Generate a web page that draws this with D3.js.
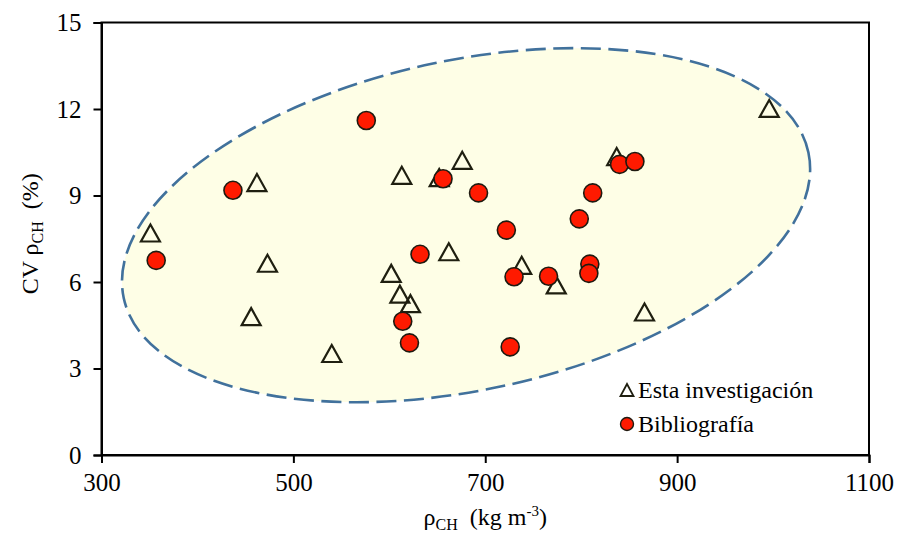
<!DOCTYPE html>
<html>
<head>
<meta charset="utf-8">
<script src="https://cdn.jsdelivr.net/npm/d3@7"></script>
<style>
  body { margin: 0; background: #fff; }
  svg text { font-family: "Liberation Serif", "Times New Roman", serif; fill: #000; }
</style>
</head>
<body>
<svg id="chart" width="899" height="533"></svg>
<script>
// Esta investigación (triangles)
var triX = [351, 462, 473, 456, 540, 613, 652, 676, 662, 602, 611, 622, 738, 774, 837, 866, 996];
var triY = [7.7, 9.45, 6.65, 4.8, 3.52, 9.7, 9.62, 10.22, 7.05, 6.3, 5.58, 5.25, 6.58, 5.9, 10.35, 4.96, 12.02];
// Bibliografía (circles)
var cirX = [576, 437, 357, 656, 693, 722, 632, 614, 621, 726, 730, 766, 798, 812, 809, 808, 840, 856];
var cirY = [11.6, 9.18, 6.75, 9.58, 9.09, 7.8, 6.96, 4.64, 3.89, 3.75, 6.18, 6.2, 8.19, 9.09, 6.62, 6.3, 10.08, 10.18];

var xTicks = [300, 500, 700, 900, 1100];
var yTicks = [0, 3, 6, 9, 12, 15];
var legendLabels = ['Esta investigación', 'Bibliografía'];
// ellipse centre in data units
var ellipseCenter = [680, 7.97];

var W = 899, H = 533;
var m = { left: 101.5, right: 30, top: 22.5, bottom: 78 };
var svg = d3.select('#chart');

var x = d3.scaleLinear().domain([300, 1100]).range([m.left, W - m.right]);
var y = d3.scaleLinear().domain([0, 15]).range([H - m.bottom, m.top]);

// shaded dashed ellipse
svg.append('ellipse')
  .attr('cx', 0).attr('cy', 0).attr('rx', 350).attr('ry', 165)
  .attr('transform', 'translate(' + x(ellipseCenter[0]) + ',' + y(ellipseCenter[1]) + ') rotate(-12)')
  .attr('fill', '#fefee6')
  .attr('stroke', '#41719c').attr('stroke-width', 2.6)
  .attr('stroke-dasharray', '20,7.5');

// frame
svg.append('rect')
  .attr('x', x(300)).attr('y', y(15))
  .attr('width', x(1100) - x(300)).attr('height', y(0) - y(15))
  .attr('fill', 'none').attr('stroke', '#000').attr('stroke-width', 2);

// axes
var xAxis = svg.append('g').attr('transform', 'translate(0,' + y(0) + ')')
  .call(d3.axisBottom(x).tickValues(xTicks).tickSize(8).tickPadding(10).tickFormat(d3.format('d')));
var yAxis = svg.append('g').attr('transform', 'translate(' + x(300) + ',0)')
  .call(d3.axisLeft(y).tickValues(yTicks).tickSize(8).tickPadding(12));
[xAxis, yAxis].forEach(function(a) {
  a.select('.domain').attr('stroke', '#000').attr('stroke-width', 2);
  a.selectAll('.tick line').attr('stroke', '#000').attr('stroke-width', 2);
  a.selectAll('.tick text').attr('font-size', 25);
});

var triPath = 'M0,-8.5L9.5,8.5L-9.5,8.5Z';

// triangles
svg.append('g').selectAll('path').data(triX).join('path')
  .attr('d', triPath)
  .attr('transform', function(d, i) { return 'translate(' + x(d) + ',' + y(triY[i]) + ')'; })
  .attr('fill', 'none').attr('stroke', '#1f1f10').attr('stroke-width', 2.2);

// circles
svg.append('g').selectAll('circle').data(cirX).join('circle')
  .attr('cx', function(d) { return x(d); })
  .attr('cy', function(d, i) { return y(cirY[i]); })
  .attr('r', 9)
  .attr('fill', '#ff1a00').attr('stroke', '#1f1a10').attr('stroke-width', 1.6);

// legend
var lg = svg.append('g').attr('transform', 'translate(627,390)');
lg.append('path').attr('d', 'M0,-6L6.5,6L-6.5,6Z')
  .attr('fill', 'none').attr('stroke', '#1f1f10').attr('stroke-width', 1.8);
lg.append('circle').attr('cx', 0).attr('cy', 34).attr('r', 6.5)
  .attr('fill', '#ff1a00').attr('stroke', '#1f1a10').attr('stroke-width', 1.4);
lg.selectAll('text').data(legendLabels).join('text')
  .attr('x', 11).attr('y', function(d, i) { return i * 34 + 8; })
  .attr('font-size', 24).text(function(d) { return d; });

// x title
var xt = svg.append('text').attr('x', (x(300) + x(1100)) / 2).attr('y', 525)
  .attr('text-anchor', 'middle').attr('font-size', 24);
xt.append('tspan').text('ρ');
xt.append('tspan').attr('font-size', 16).attr('dy', 5).text('CH');
xt.append('tspan').attr('dy', -5).text('\u00a0\u00a0(kg m');
xt.append('tspan').attr('font-size', 15).attr('dy', -9).text('-3');
xt.append('tspan').attr('dy', 9).text(')');

// y title
var yt = svg.append('text')
  .attr('transform', 'translate(38,' + ((y(0) + y(15)) / 2 - 5) + ') rotate(-90)')
  .attr('text-anchor', 'middle').attr('font-size', 24);
yt.append('tspan').text('CV ρ');
yt.append('tspan').attr('font-size', 16).attr('dy', 5).text('CH');
yt.append('tspan').attr('dy', -5).text('\u00a0\u00a0(%)');
</script>
</body>
</html>
